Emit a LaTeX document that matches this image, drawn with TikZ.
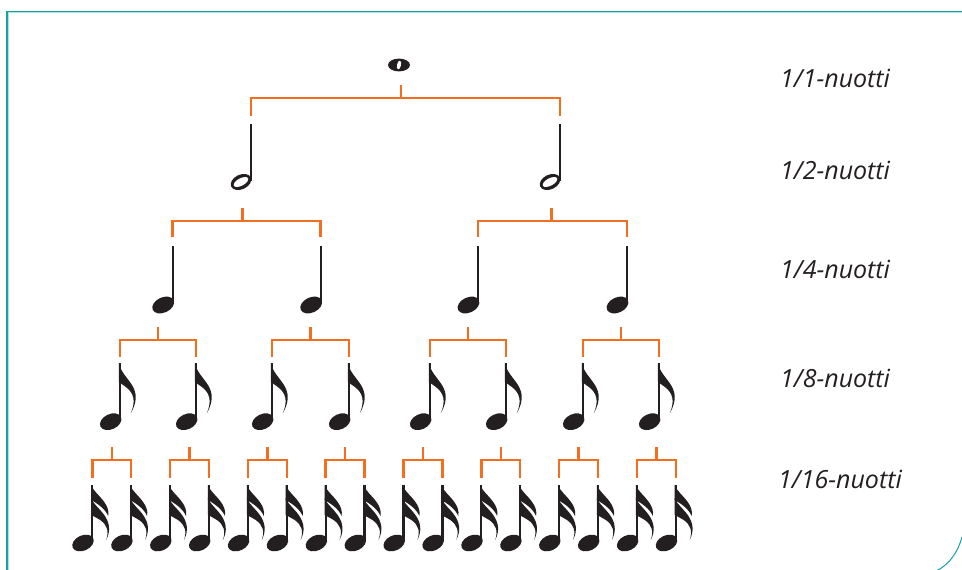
\documentclass[tikz,border=0pt]{standalone}
\usepackage{fontspec}
\setmainfont{Open Sans}
\usetikzlibrary{calc}
\definecolor{ink}{HTML}{231F20}
\definecolor{brk}{HTML}{F26F21}
\definecolor{tealA}{HTML}{1AA0A3}
\definecolor{tealB}{HTML}{A6E3E3}
\tikzset{
  bracket/.style={draw=brk, line width=2.5pt},
  stemline/.style={draw=ink, line width=2.3pt},
  lbl/.style={anchor=west, inner sep=0pt, font=\itshape\fontsize{25}{29}\selectfont, text=ink},
  headfill/.style={fill=ink, rotate=25},
  flagA/.pic={\fill[ink] (0,0) .. controls (1,7) and (6,12) .. (11,19) .. controls (17,27) and (20,36) .. (12,50) .. controls (17,38) and (15,30) .. (7,24) .. controls (3,21) and (1,20) .. (0,19) -- cycle;},
  flagB/.pic={\fill[ink] (0,0) .. controls (2,6) and (8,10) .. (13,17) .. controls (16,21) and (18,26) .. (17,31) .. controls (14,24) and (7,19) .. (0,15) -- cycle;
              \fill[ink] (0,13) .. controls (2,19) and (8,23) .. (13,30) .. controls (18,37) and (20,45) .. (15,55) .. controls (18,46) and (16,40) .. (9,35) .. controls (4,32) and (2,31) .. (0,30) -- cycle;},
  wholenote/.pic={\fill[ink] (0,0) ellipse [x radius=11pt, y radius=6.4pt];
                  \fill[white, rotate=-12] (0,0) ellipse [x radius=2pt, y radius=4.4pt];
                  \coordinate (-bot) at (2,20);},
  halfnote/.pic={\fill[headfill] (0,0) ellipse [x radius=10.8pt, y radius=7.3pt];
                 \fill[white, rotate=28] (0,0) ellipse [x radius=8pt, y radius=3.7pt];
                 \draw[stemline] (10,-1) -- (10,-58);
                 \coordinate (-top) at (10,-66);
                 \coordinate (-bot) at (1.5,26);},
  quarternote/.pic={\fill[headfill] (0,0) ellipse [x radius=11.5pt, y radius=7.6pt];
                 \draw[stemline] (9.5,-2) -- (9.5,-59);
                 \coordinate (-top) at (9.5,-68);
                 \coordinate (-bot) at (0,22);},
  eighthnote/.pic={\fill[headfill] (0,0) ellipse [x radius=11.3pt, y radius=7.6pt];
                 \draw[stemline] (9.3,-2) -- (9.3,-58.7);
                 \pic at (8.2,-58.7) {flagA};
                 \coordinate (-top) at (9.3,-64.7);
                 \coordinate (-bot) at (0,25.3);},
  sixteenthnote/.pic={\fill[headfill] (0,0) ellipse [x radius=11.3pt, y radius=7.6pt];
                 \draw[stemline] (9.3,-2) -- (9.3,-58);
                 \pic at (8.2,-58) {flagB};
                 \coordinate (-top) at (9.3,-65);}
}
\newcommand\brakP[3]{%
  \draw[bracket] (#1-bot) -- ($(#1-bot)+(0,13)$);
  \draw[bracket] (#2-top) |- ($(#1-bot)+(0,13)$) -| (#3-top);}
\newcommand\brakM[3]{%
  \coordinate (mid) at ($(#2-top)!0.5!(#3-top)$);
  \draw[bracket] (mid |- #1-bot) -- ($(mid |- #1-bot)+(0,13)$);
  \draw[bracket] (#2-top) |- ($(#1-bot)+(0,13)$) -| (#3-top);}
\begin{document}
\begin{tikzpicture}[x=1pt, y=-1pt]
\useasboundingbox (0,0) rectangle (962,570);
% frame
\draw[tealB, line width=1.2pt] (8.3,570) -- (8.3,12.5) -- (962,12.5);
\draw[tealA, line width=1.3pt] (7.1,570) -- (7.1,11.3) -- (962,11.3);
\draw[tealA, line width=1pt] (962,537) .. controls (958,552) and (949,565) .. (936,571);
% notes
\pic (w) at (399,65) {wholenote};
\pic (h1) at (241,182) {halfnote};
\pic (h2) at (550,182) {halfnote};
\foreach \i/\x in {1/163.2, 2/311.2, 3/468.5, 4/617.5}
  \pic (q\i) at (\x,305) {quarternote};
\foreach \i/\x in {1/110.7, 2/186.7, 3/262.7, 4/339.7, 5/420.7, 6/496.7, 7/573.7, 8/649.7}
  \pic (e\i) at (\x,421.7) {eighthnote};
\foreach \i in {1,...,16}
  \pic (s\i) at ({83+38.9*(\i-1)},543) {sixteenthnote};
% brackets
\brakP{w}{h1}{h2}
\brakP{h1}{q1}{q2}
\brakP{h2}{q3}{q4}
\brakM{q1}{e1}{e2}
\brakM{q2}{e3}{e4}
\brakM{q3}{e5}{e6}
\brakM{q4}{e7}{e8}
\brakM{e1}{s1}{s2}
\brakM{e2}{s3}{s4}
\brakM{e3}{s5}{s6}
\brakM{e4}{s7}{s8}
\brakM{e5}{s9}{s10}
\brakM{e6}{s11}{s12}
\brakM{e7}{s13}{s14}
\brakM{e8}{s15}{s16}
% labels
\node[lbl] (l1) at (780,78) {1/1-nuotti};
\node[lbl] (l2) at (780,170) {1/2-nuotti};
\node[lbl] (l4) at (780,269) {1/4-nuotti};
\node[lbl] (l8) at (780,378) {1/8-nuotti};
\node[lbl] (l16) at (778,479) {1/16-nuotti};
\end{tikzpicture}
\end{document}
